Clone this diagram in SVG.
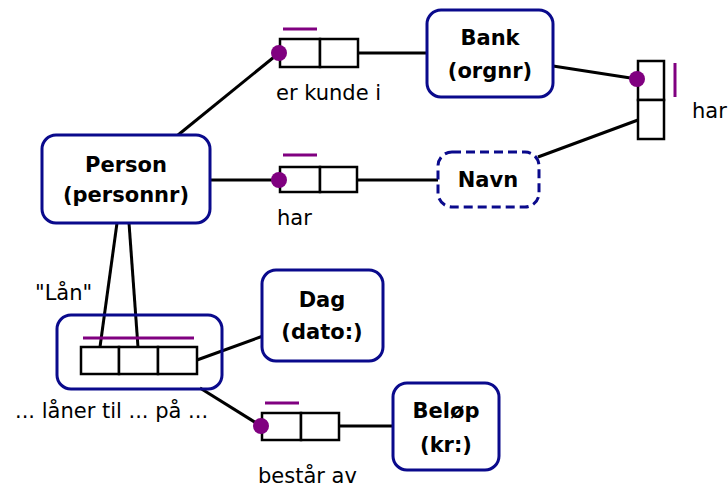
<svg xmlns="http://www.w3.org/2000/svg" width="728" height="491" viewBox="0 0 728 491">
<style>
.ent{fill:#fff;stroke:#0a0a8c;stroke-width:3}
.obj{fill:none;stroke:#0a0a8c;stroke-width:3}
.dash{stroke-dasharray:9,5}
.role{fill:#fff;stroke:#000;stroke-width:2.5}
.ln{stroke:#000;stroke-width:3;fill:none}
.uc{stroke:#800080;stroke-width:3}
.dot{fill:#800080}
.b{font-family:"DejaVu Sans",Verdana,sans-serif;font-weight:bold;font-size:21px;text-anchor:middle;fill:#000}
.t{font-family:"DejaVu Sans",Verdana,sans-serif;font-size:21px;fill:#000}
</style>
<rect width="728" height="491" fill="#fff"/>
<g id="connectors">
<line class="ln" x1="178" y1="135" x2="279" y2="53"/>
<line class="ln" x1="358" y1="53" x2="427" y2="53"/>
<line class="ln" x1="553" y1="66" x2="637" y2="79"/>
<line class="ln" x1="538" y1="157" x2="638" y2="120"/>
<line class="ln" x1="210" y1="180" x2="279" y2="180"/>
<line class="ln" x1="357" y1="180" x2="438" y2="180"/>
<line class="ln" x1="117" y1="223" x2="100" y2="347"/>
<line class="ln" x1="129" y1="223" x2="138" y2="347"/>
<line class="ln" x1="197" y1="360" x2="263" y2="336"/>
<line class="ln" x1="200" y1="388" x2="261" y2="426"/>
<line class="ln" x1="339" y1="426" x2="393" y2="426"/>
</g>
<g id="bank">
<rect class="ent" x="427" y="10" width="126" height="87" rx="14"/>
<text class="b" x="490" y="45">Bank</text>
<text class="b" x="490" y="78">(orgnr)</text>
</g>
<g id="person">
<rect class="ent" x="42" y="135" width="168" height="88" rx="14"/>
<text class="b" x="126" y="172">Person</text>
<text class="b" x="126" y="202">(personnr)</text>
</g>
<g id="navn">
<rect class="ent dash" x="438" y="152" width="101" height="55" rx="14"/>
<text class="b" x="488" y="187">Navn</text>
</g>
<g id="dag">
<rect class="ent" x="262" y="270" width="121" height="91" rx="14"/>
<text class="b" x="322" y="307">Dag</text>
<text class="b" x="322" y="339">(dato:)</text>
</g>
<g id="belop">
<rect class="ent" x="393" y="383" width="106" height="87" rx="14"/>
<text class="b" x="446" y="418">Beløp</text>
<text class="b" x="446" y="452">(kr:)</text>
</g>
<g id="fact-kunde">
<rect class="role" x="280" y="39" width="40" height="28"/>
<rect class="role" x="320" y="39" width="38" height="28"/>
<line class="uc" x1="283" y1="29" x2="317" y2="29"/>
<circle class="dot" cx="279" cy="53" r="8"/>
<text class="t" x="276" y="100">er kunde i</text>
</g>
<g id="fact-bank-navn">
<rect class="role" x="638" y="61" width="26" height="39"/>
<rect class="role" x="638" y="100" width="26" height="39"/>
<line class="uc" x1="675" y1="63" x2="675" y2="97"/>
<circle class="dot" cx="637" cy="79" r="8"/>
<text class="t" x="692" y="118">har</text>
</g>
<g id="fact-har">
<rect class="role" x="280" y="167" width="40" height="25"/>
<rect class="role" x="320" y="167" width="37" height="25"/>
<line class="uc" x1="283" y1="155" x2="317" y2="155"/>
<circle class="dot" cx="279" cy="180" r="8"/>
<text class="t" x="277" y="225">har</text>
</g>
<g id="fact-lan">
<rect class="obj" x="57" y="315" width="165" height="74" rx="14"/>
<rect class="role" x="81" y="347" width="38" height="27"/>
<rect class="role" x="119" y="347" width="39" height="27"/>
<rect class="role" x="158" y="347" width="39" height="27"/>
<line class="uc" x1="83" y1="338" x2="194" y2="338"/>
<text class="t" x="35" y="300">"Lån"</text>
<text class="t" x="15" y="418">... låner til ... på ...</text>
</g>
<g id="fact-bestar">
<rect class="role" x="262" y="413" width="39" height="27"/>
<rect class="role" x="301" y="413" width="38" height="27"/>
<line class="uc" x1="265" y1="403" x2="299" y2="403"/>
<circle class="dot" cx="261" cy="426" r="8"/>
<text class="t" x="258" y="483">består av</text>
</g>
</svg>
